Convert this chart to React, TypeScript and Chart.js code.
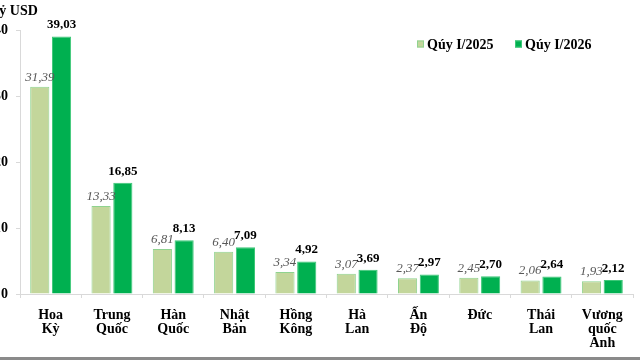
import React, { useEffect, useRef } from "react";
import { Chart, registerables } from "chart.js";

Chart.register(...registerables);

const categories: string[][] = [
  ["Hoa", "Kỳ"],
  ["Trung", "Quốc"],
  ["Hàn", "Quốc"],
  ["Nhật", "Bản"],
  ["Hồng", "Kông"],
  ["Hà", "Lan"],
  ["Ấn", "Độ"],
  ["Đức"],
  ["Thái", "Lan"],
  ["Vương", "quốc", "Anh"],
];
const series2025: number[] = [31.39, 13.33, 6.81, 6.4, 3.34, 3.07, 2.37, 2.45, 2.06, 1.93];
const series2026: number[] = [39.03, 16.85, 8.13, 7.09, 4.92, 3.69, 2.97, 2.7, 2.64, 2.12];
const seriesNames: string[] = ["Qúy I/2025", "Qúy I/2026"];
const yTicks: number[] = [0, 10, 20, 30, 40];
const unitLabel = "Tỷ USD";

const FONT = "'Liberation Serif', 'Times New Roman', serif";
const LIGHT = "#c3d69b";
const LIGHT_BORDER = "#8fd38f";
const DARK = "#00b050";
const DARK_BORDER = "#3cc777";

const fmt = (v: number) => v.toFixed(2).replace(".", ",");

const decorPlugin = {
  id: "decor",
  afterDatasetsDraw(chart: any) {
    const ctx = chart.ctx;
    ctx.save();
    ctx.textAlign = "center";
    ctx.textBaseline = "bottom";
    chart.data.datasets.forEach((ds: any, di: number) => {
      const meta = chart.getDatasetMeta(di);
      meta.data.forEach((el: any, i: number) => {
        const v = ds.data[i] as number;
        if (di === 0) {
          ctx.font = `italic 13px ${FONT}`;
          ctx.fillStyle = "#595959";
          ctx.fillText(fmt(v), el.x, el.y - 3);
        } else {
          ctx.font = `bold 13px ${FONT}`;
          ctx.fillStyle = "#000000";
          ctx.fillText(fmt(v), el.x, el.y - 5);
        }
      });
    });
    ctx.restore();
  },
  afterDraw(chart: any) {
    const ctx = chart.ctx;
    ctx.save();
    ctx.font = `bold 14px ${FONT}`;
    ctx.fillStyle = "#000000";
    ctx.textAlign = "left";
    ctx.textBaseline = "alphabetic";
    ctx.fillText(unitLabel, 10, 15);
    const items = [
      { x: 437, color: LIGHT, border: LIGHT_BORDER, label: seriesNames[0] },
      { x: 535, color: DARK, border: DARK_BORDER, label: seriesNames[1] },
    ];
    ctx.textBaseline = "middle";
    items.forEach((it) => {
      ctx.fillStyle = it.color;
      ctx.fillRect(it.x, 40.5, 7, 7);
      ctx.strokeStyle = it.border;
      ctx.lineWidth = 1;
      ctx.strokeRect(it.x + 0.5, 41, 6, 6);
      ctx.fillStyle = "#000000";
      ctx.font = `bold 14px ${FONT}`;
      ctx.fillText(it.label, it.x + 10, 45);
    });
    ctx.fillStyle = "#8a8a8a";
    ctx.fillRect(0, 357, chart.width, 3);
    ctx.restore();
  },
};

export default function App() {
  const ref = useRef<HTMLCanvasElement | null>(null);
  useEffect(() => {
    if (!ref.current) return;
    const chart = new Chart(ref.current, {
      type: "bar",
      data: {
        labels: categories,
        datasets: [
          {
            label: seriesNames[0],
            data: series2025,
            backgroundColor: LIGHT,
            borderColor: LIGHT_BORDER,
            borderWidth: 1,
            categoryPercentage: 0.71,
            barPercentage: 0.88,
          },
          {
            label: seriesNames[1],
            data: series2026,
            backgroundColor: DARK,
            borderColor: DARK_BORDER,
            borderWidth: 1,
            categoryPercentage: 0.71,
            barPercentage: 0.88,
          },
        ],
      },
      options: {
        responsive: false,
        animation: false,
        layout: { padding: { top: 30, right: 7, left: 0, bottom: 0 } },
        plugins: {
          legend: { display: false },
          tooltip: { enabled: false },
        },
        scales: {
          x: {
            grid: {
              display: true,
              drawOnChartArea: false,
              drawTicks: true,
              tickLength: 4,
              color: "#d9d9d9",
              offset: true,
            },
            border: { color: "#d9d9d9", width: 1 },
            ticks: {
              color: "#000000",
              font: { family: FONT, size: 14, weight: "bold", lineHeight: 1.0 },
              padding: 10,
              maxRotation: 0,
              autoSkip: false,
            },
            afterFit: (s: any) => {
              s.height = 66;
            },
          },
          y: {
            min: 0,
            max: 40,
            afterBuildTicks: (s: any) => {
              s.ticks = yTicks.map((v) => ({ value: v }));
            },
            grid: {
              display: true,
              drawOnChartArea: false,
              drawTicks: true,
              tickLength: 4,
              color: "#d9d9d9",
            },
            border: { color: "#d9d9d9", width: 1 },
            ticks: {
              color: "#000000",
              font: { family: FONT, size: 14, weight: "bold" },
              padding: 8,
            },
            afterFit: (s: any) => {
              s.width = 40;
            },
          },
        },
      },
      plugins: [decorPlugin],
    });
    return () => chart.destroy();
  }, []);
  return (
    <div
      style={{
        position: "absolute",
        left: -20,
        top: 0,
        width: 660,
        height: 360,
        background: "#ffffff",
      }}
    >
      <canvas ref={ref} width={660} height={360} style={{ display: "block" }} />
    </div>
  );
}
